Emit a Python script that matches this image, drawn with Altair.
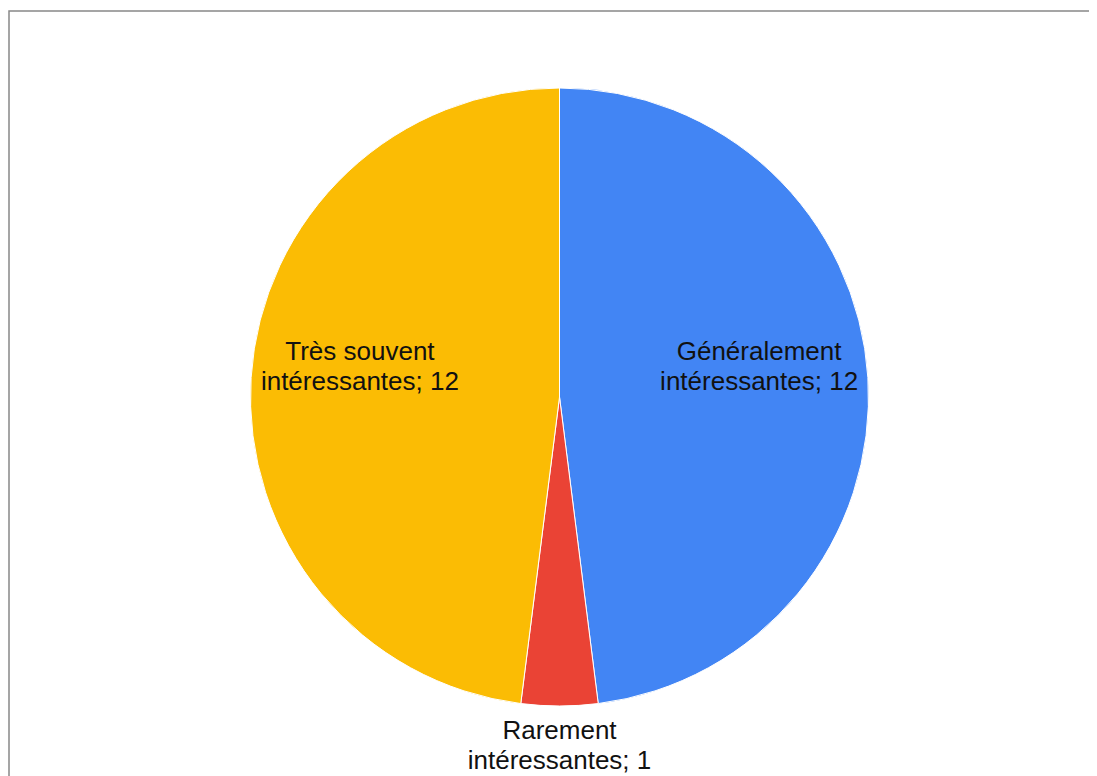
import altair as alt
import pandas as pd

categories = ["Généralement intéressantes", "Rarement intéressantes", "Très souvent intéressantes"]
values = [12, 1, 12]
colors = ["#4285F4", "#EA4335", "#FBBC04"]

df = pd.DataFrame({
    "cat": categories,
    "value": values,
    "order": list(range(len(categories))),
})
df["label"] = [c.replace(" intéressantes", "\nintéressantes") + "; " + str(v) for c, v in zip(categories, values)]

CX, CY = 551.5, 389
border = pd.DataFrame({"a": [0]})

frame = alt.Chart(border).mark_rect(fill="white", stroke="#888888", strokeWidth=1.5).encode(
    x=alt.value(1), x2=alt.value(1400), y=alt.value(3), y2=alt.value(1100)
)

base = alt.Chart(df).encode(
    theta=alt.Theta("value:Q", stack=True),
    order=alt.Order("order:Q"),
)

pie = base.mark_arc(stroke="white", strokeWidth=1).encode(
    color=alt.Color("cat:N", scale=alt.Scale(domain=categories, range=colors), legend=None),
    x=alt.value(CX), y=alt.value(CY),
    radius=alt.value(309),
)

text_style = dict(
    font="Liberation Sans", fontSize=26, lineBreak="\n", lineHeight=30,
    baseline="middle", align="center", dy=-32, color="#111111",
)

text_in = base.mark_text(**text_style).encode(
    text="label:N",
    x=alt.value(CX), y=alt.value(CY),
    radius=alt.value(200),
    opacity=alt.condition(alt.datum.value < 2, alt.value(0), alt.value(1)),
)

text_out = base.mark_text(**text_style).encode(
    text="label:N",
    x=alt.value(CX), y=alt.value(CY),
    radius=alt.value(366),
    opacity=alt.condition(alt.datum.value < 2, alt.value(1), alt.value(0)),
)

chart = alt.layer(frame, pie, text_in, text_out).properties(
    width=1081, height=768,
    autosize=alt.AutoSizeParams(type="none"),
    padding=0,
).configure_view(stroke=None)

chart.save("out.html", embed_options={"renderer": "svg", "actions": False})
